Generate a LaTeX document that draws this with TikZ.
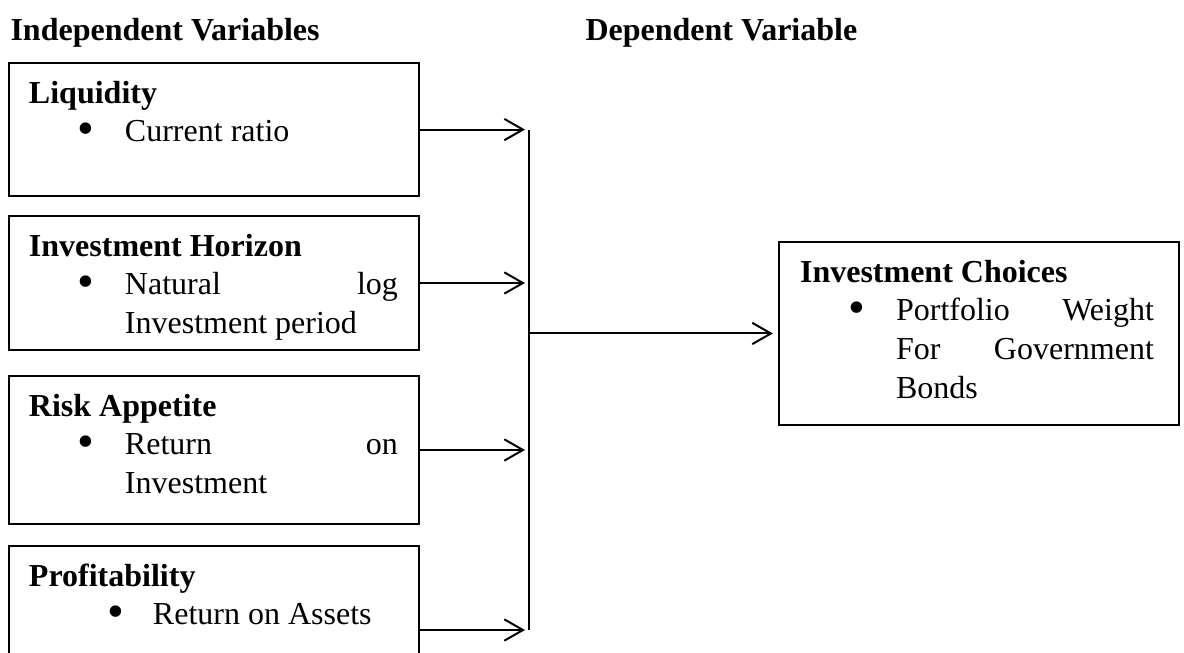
\documentclass[tikz,border=0pt,12pt]{standalone}
\usepackage{fontspec}
\usepackage{graphicx}
\setmainfont{Liberation Serif}
\usetikzlibrary{arrows.meta}
\usetikzlibrary{calc}

% box content: width, height, left margin, right margin, title, items
\newcommand{\boxtext}[6]{\parbox[t][#2][t]{#1}{\setlength{\parindent}{0pt}%
 \setlength{\leftskip}{#3}\setlength{\rightskip}{#4}%
 \rule{0pt}{15pt}\textbf{#5}\par #6}}
% bullet item: bullet indent, text indent, text
\newcommand{\bitem}[3]{\hangindent=#2\hangafter=1\hspace*{#1}%
 \makebox[\dimexpr#2-#1\relax][l]{\raisebox{-0.1em}{\scalebox{1.5}{\textbullet}}}#3\par}

\begin{document}
\begin{tikzpicture}[x=0.375pt, y=-0.375pt,
 varbox/.style={draw, line width=.75pt, inner sep=0, anchor=north west},
 heading/.style={font=\bfseries, inner sep=0, anchor=base west},
 flow/.style={line width=.75pt, -{Straight Barb[length=7pt,width=8pt]}, shorten >=1.5pt}]
\useasboundingbox (0,0) rectangle (1184,652);
\clip (0,0) rectangle (1184,652);
% headings
\node[heading] (indep) at (10,40) {Independent Variables};
\node[heading] (dep) at (585,40) {Dependent Variable};
% independent variables
\node[varbox] (liq) at (8,62) {\boxtext{153.75pt}{49.9pt}{7.5pt}{7.9pt}{Liquidity}{%
 \bitem{18pt}{36pt}{Current ratio}}};
\node[varbox] (hor) at (8,215) {\boxtext{153.75pt}{50.25pt}{7.5pt}{7.9pt}{Investment Horizon}{%
 \bitem{18pt}{36pt}{Natural\hfill log\\Investment period}}};
\node[varbox] (risk) at (8,375) {\boxtext{153.75pt}{55.5pt}{7.5pt}{7.9pt}{Risk Appetite}{%
 \bitem{18pt}{36pt}{Return\hfill on\\Investment}}};
\node[varbox] (prof) at (8,545) {\boxtext{153.75pt}{63pt}{7.5pt}{7.9pt}{Profitability}{%
 \bitem{29.25pt}{46.5pt}{Return on Assets}}};
% dependent variable
\node[varbox] (choice) at (778,241) {\boxtext{150pt}{68.6pt}{7.9pt}{9.4pt}{Investment Choices}{%
 \bitem{18pt}{36pt}{Portfolio\hfill Weight\\For\hfill Government\\Bonds}}};
% connectors
\coordinate (bus) at (529,0);
\foreach \b in {liq,hor,risk,prof}
 \draw[flow] (\b.east) -- (\b.east -| bus);
\draw[line width=.75pt] (liq.east -| bus) -- (prof.east -| bus);
\draw[flow, shorten >=1.9pt] (choice.west -| bus) -- (choice.west);
\end{tikzpicture}
\end{document}
